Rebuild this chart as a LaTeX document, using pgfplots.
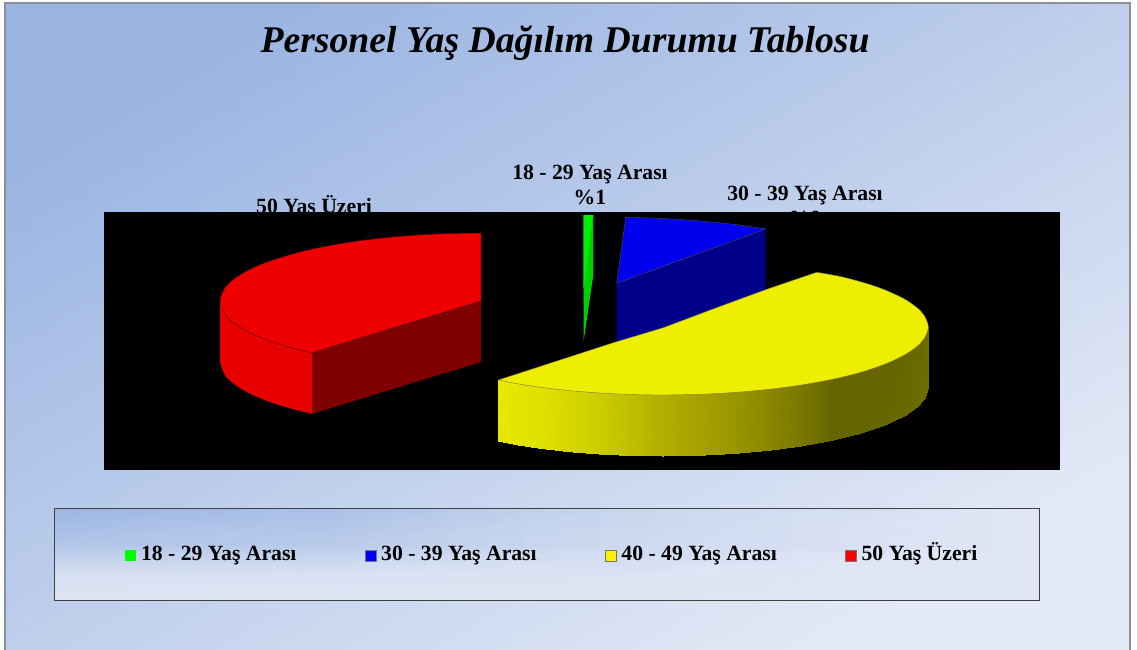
\documentclass[border=0pt]{standalone}
\usepackage{pgfplots}
\pgfplotsset{compat=1.18}
\usepackage{fontspec}
\setmainfont{Liberation Serif}
\definecolor{gTop}{HTML}{00EE00}
\definecolor{gCut}{HTML}{00D000}
\definecolor{bTop}{HTML}{0000EE}
\definecolor{yTop}{HTML}{EEEE00}
\definecolor{rTop}{HTML}{EE0000}
\definecolor{rWall}{HTML}{E60000}
\definecolor{rCut}{HTML}{800000}
\definecolor{bCut}{HTML}{00008A}
\definecolor{frameC}{HTML}{8A8F98}
\definecolor{bgA}{RGB}{155,181,226}
\definecolor{bgB}{RGB}{227,233,246}
\newcommand{\lab}{\fontsize{21.7}{24}\selectfont\bfseries}
\begin{document}
\begin{tikzpicture}
\useasboundingbox (0,0) rectangle (1137pt,650pt);
\begin{axis}[
  at={(0,0)}, anchor=south west,
  scale only axis, width=1137pt, height=650pt,
  xmin=0, xmax=1137, ymin=0, ymax=650, y dir=reverse,
  hide axis, clip=false,
  legend columns=4,
  legend cell align=left,
  legend style={at={(axis cs:125,555.5)}, anchor=west, draw=none, fill=none,
    inner sep=0pt, outer sep=0pt,
    nodes={inner sep=0pt, outer sep=0pt, font=\lab, text height=15pt, text depth=5pt},
    /tikz/column 1/.style={column sep=5pt},
    /tikz/column 2/.style={column sep=68pt},
    /tikz/column 3/.style={column sep=5pt},
    /tikz/column 4/.style={column sep=68pt},
    /tikz/column 5/.style={column sep=5pt},
    /tikz/column 6/.style={column sep=68pt},
    /tikz/column 7/.style={column sep=5pt}},
]
% page background
\addplot[draw=none, top color=bgA, bottom color=bgB, shading angle=30, forget plot] coordinates {(5,3) (1130,3) (1130,650) (5,650)} --cycle;
\addplot[draw=frameC, line width=1.4pt, forget plot] coordinates {(5,650) (5,3) (1130,3) (1130,650)};
% title and data labels (lying under the black plot area)
\node[font=\fontsize{37.7}{42}\selectfont\bfseries\itshape, anchor=base] at (axis cs:565,53) {Personel Yaş Dağılım Durumu Tablosu};
\node[font=\lab, anchor=base] at (axis cs:590,179) {18 - 29 Yaş Arası};
\node[font=\lab, anchor=base] at (axis cs:590,204) {\%1};
\node[font=\lab, anchor=base] at (axis cs:805,200) {30 - 39 Yaş Arası};
\node[font=\lab, anchor=base] at (axis cs:805,225) {\%9};
\node[font=\lab, anchor=base] at (axis cs:314,213) {50 Yaş Üzeri};
% plot area
\addplot[fill=black, draw=none, forget plot] coordinates {(104,212) (1060,212) (1060,470) (104,470)} --cycle;
% red walls
\addplot[fill=rCut, draw=none, forget plot] coordinates {(312,352.8) (481,301) (481,362) (312,413.8)} --cycle;
\addplot[fill=rWall, draw=none, forget plot, smooth] coordinates {(220,362) (225,375.3) (235,384.7) (250,393.7) (270,402) (290,408.3) (312,413.8)} -- (axis cs:312,352.8) -- (axis cs:220,301) -- cycle;
% blue wall
\addplot[fill=bCut, draw=none, forget plot] coordinates {(616.5,283.3) (765.7,229) (765.7,296) (616.5,350)} --cycle;
% green wall
\addplot[fill=gCut, draw=none, forget plot] coordinates {(593.3,215) (593.3,275) (583.5,342) (583.5,282)} --cycle;
% yellow wall, shaded from left to right
\addplot[patch, patch type=rectangle, shader=interp, mesh/color input=explicit, forget plot] table[meta=c] {
x y c
498.3 380 rgb255=232,232,0
520 384.2 rgb255=228,228,0
520 445.2 rgb255=228,228,0
498.3 441 rgb255=232,232,0
520 384.2 rgb255=228,228,0
540 387.2 rgb255=225,225,0
540 448.2 rgb255=225,225,0
520 445.2 rgb255=228,228,0
540 387.2 rgb255=225,225,0
570 390.7 rgb255=215,215,0
570 451.7 rgb255=215,215,0
540 448.2 rgb255=225,225,0
570 390.7 rgb255=215,215,0
600 393 rgb255=205,205,0
600 454 rgb255=205,205,0
570 451.7 rgb255=215,215,0
600 393 rgb255=205,205,0
630 394.5 rgb255=192,192,0
630 455.5 rgb255=192,192,0
600 454 rgb255=205,205,0
630 394.5 rgb255=192,192,0
663 395 rgb255=177,175,0
663 456 rgb255=177,175,0
630 455.5 rgb255=192,192,0
663 395 rgb255=177,175,0
700 394.3 rgb255=166,162,0
700 455.3 rgb255=166,162,0
663 456 rgb255=177,175,0
700 394.3 rgb255=166,162,0
735 392.4 rgb255=154,150,0
735 453.4 rgb255=154,150,0
700 455.3 rgb255=166,162,0
735 392.4 rgb255=154,150,0
770 389.2 rgb255=139,135,0
770 450.2 rgb255=139,135,0
735 453.4 rgb255=154,150,0
770 389.2 rgb255=139,135,0
800 385.2 rgb255=123,120,0
800 446.2 rgb255=123,120,0
770 450.2 rgb255=139,135,0
800 385.2 rgb255=123,120,0
833 379.2 rgb255=102,102,0
833 440.2 rgb255=102,102,0
800 446.2 rgb255=123,120,0
833 379.2 rgb255=102,102,0
860 372.5 rgb255=102,102,0
860 433.5 rgb255=102,102,0
833 440.2 rgb255=102,102,0
860 372.5 rgb255=102,102,0
885 364.1 rgb255=102,102,0
885 425.1 rgb255=102,102,0
860 433.5 rgb255=102,102,0
885 364.1 rgb255=102,102,0
905 354.7 rgb255=104,104,0
905 415.7 rgb255=104,104,0
885 425.1 rgb255=102,102,0
905 354.7 rgb255=104,104,0
918 345.5 rgb255=106,106,0
918 406.5 rgb255=106,106,0
905 415.7 rgb255=104,104,0
918 345.5 rgb255=106,106,0
925 337.2 rgb255=108,108,0
925 398.2 rgb255=108,108,0
918 406.5 rgb255=106,106,0
925 337.2 rgb255=108,108,0
928.5 327 rgb255=110,110,0
928.5 388 rgb255=110,110,0
925 398.2 rgb255=108,108,0
};
% legend panel
\addplot[patch, patch type=rectangle, shader=interp, mesh/color input=explicit, forget plot] table[meta=c] {
x y c
54 508 rgb255=157,183,227
330 508 rgb255=170,192,231
330 545 rgb255=186,203,235
54 545 rgb255=178,198,233
330 508 rgb255=170,192,231
640 508 rgb255=200,215,238
640 545 rgb255=205,218,240
330 545 rgb255=186,203,235
640 508 rgb255=200,215,238
1039 508 rgb255=224,230,245
1039 545 rgb255=224,230,245
640 545 rgb255=205,218,240
54 545 rgb255=178,198,233
330 545 rgb255=186,203,235
330 575 rgb255=218,226,243
54 575 rgb255=215,224,241
330 545 rgb255=186,203,235
640 545 rgb255=205,218,240
640 575 rgb255=220,228,244
330 575 rgb255=218,226,243
640 545 rgb255=205,218,240
1039 545 rgb255=224,230,245
1039 575 rgb255=224,230,245
640 575 rgb255=220,228,244
54 575 rgb255=215,224,241
330 575 rgb255=218,226,243
330 600 rgb255=224,229,244
54 600 rgb255=224,229,244
330 575 rgb255=218,226,243
640 575 rgb255=220,228,244
640 600 rgb255=224,229,244
330 600 rgb255=224,229,244
640 575 rgb255=220,228,244
1039 575 rgb255=224,230,245
1039 600 rgb255=224,230,245
640 600 rgb255=224,229,244
};
\addplot[draw=black!75, line width=0.9pt, forget plot] coordinates {(54,508) (1039,508) (1039,600.5) (54,600.5)} --cycle;
% top faces, which also give the legend entries
\addplot[fill=gTop, draw=none, legend image code/.code={\path[fill=green] (0pt,-5.5pt) rectangle (11pt,5.5pt);}] coordinates {(583.3,215) (593.3,215) (583.5,290)} --cycle;
\addlegendentry{18 - 29 Yaş Arası}
\addplot[fill=bTop, draw=black!70, line width=0.4pt, legend image code/.code={\path[draw=black!55, line width=0.7pt, fill=blue] (0pt,-5.5pt) rectangle (11pt,5.5pt);}, smooth] coordinates {(625.7,217.3) (663,218.5) (700,221) (735,224.5) (765.7,229)} -- (axis cs:616.7,283.3) -- cycle;
\addlegendentry{30 - 39 Yaş Arası}
\addplot[fill=yTop, draw=black!60!yellow, line width=0.4pt, legend image code/.code={\path[draw=black!55, line width=0.7pt, fill=yellow] (0pt,-5.5pt) rectangle (11pt,5.5pt);}, smooth] coordinates {(816.7,272.3) (840,276.4) (865,283) (885,289.9) (905,299.3) (918,308.5) (925,316.8) (928.3,327) (925,337.2) (918,345.5) (905,354.7) (885,364.1) (860,372.5) (833,379.2) (800,385.2) (770,389.2) (735,392.4) (700,394.3) (663,395) (630,394.5) (600,393) (570,390.7) (540,387.2) (520,384.2) (498.3,380)} -- (axis cs:613.3,342.7) -- (axis cs:663.3,327.7) -- (axis cs:713,309) -- (axis cs:766.7,289.3) -- cycle;
\addlegendentry{40 - 49 Yaş Arası}
\addplot[fill=rTop, draw=black!70!red, line width=0.4pt, legend image code/.code={\path[draw=black!55, line width=0.7pt, fill=red] (0pt,-5.5pt) rectangle (11pt,5.5pt);}, smooth] coordinates {(481,233) (450,233.5) (420,234.9) (390,237.3) (360,240.7) (330,245.5) (300,252) (270,261) (250,269.3) (235,278.3) (225,287.7) (220,301) (225,314.3) (235,323.7) (250,332.7) (270,341) (290,347.3) (312,352.8)} -- (axis cs:481,301) -- cycle;
\addlegendentry{50 Yaş Üzeri}
\end{axis}
\end{tikzpicture}
\end{document}
